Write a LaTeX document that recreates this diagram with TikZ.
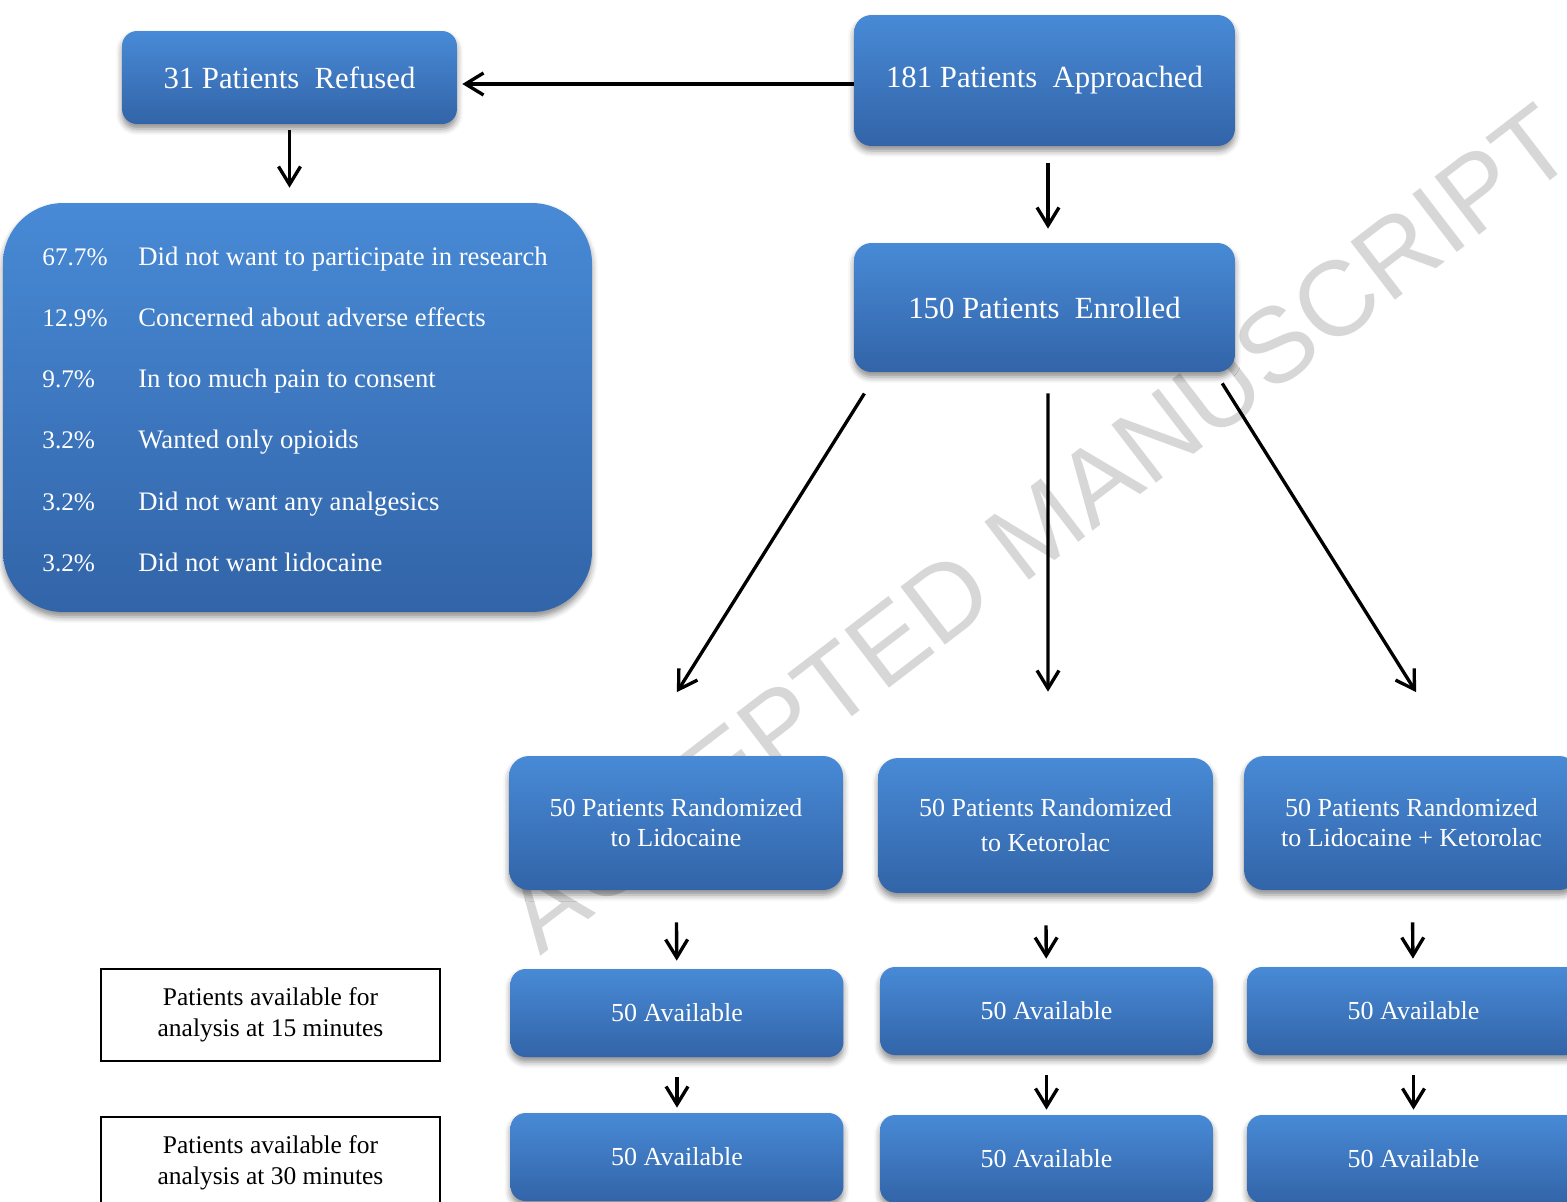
\documentclass[tikz,border=0pt]{standalone}
\usepackage{fontspec}
\setmainfont{Liberation Serif}
\newfontfamily\wmfont{Liberation Sans}
\usetikzlibrary{arrows.meta,shadows.blur}
\definecolor{boxtop}{RGB}{72,138,214}
\definecolor{boxbot}{RGB}{50,100,168}
\definecolor{wmgray}{RGB}{215,215,215}
\begin{document}
\begin{tikzpicture}[x=0.02cm, y=-0.02cm,
	bluebox/.style={rounded corners=0.35cm, top color=boxtop, bottom color=boxbot, text=white, align=center, inner sep=0pt,
		blur shadow={shadow xshift=0pt, shadow yshift=-0.1cm, shadow blur radius=0.12cm, shadow opacity=45}},
	big/.style={font=\fontsize{17.5}{21}\selectfont},
	mid/.style={font=\fontsize{14.8}{17}\selectfont},
	labelbox/.style={draw=black, line width=0.8pt, fill=white, align=center, minimum width=6.78cm, minimum height=1.84cm, font=\fontsize{14.5}{17.6}\selectfont},
	arr/.style={-{Straight Barb[length=0.36cm,width=0.44cm]}, line width=1.9pt}]
\useasboundingbox (0,0) rectangle (1567,1202);
\node[font=\wmfont\fontsize{60.5}{60.5}\selectfont, text=wmgray, rotate=37.5, inner sep=0pt] (wmark) at (1038,528) {ACCEPTED MANUSCRIPT};
%
\node[bluebox, big, minimum width=6.7cm, minimum height=1.86cm, rounded corners=0.3cm] (refd) at (289.5,77.5) {31 Patients~ Refused};
\node[bluebox, big, minimum width=7.62cm, minimum height=2.62cm] (appr) at (1044.5,80.5) {181 Patients~ Approached};
\node[bluebox, big, minimum width=7.62cm, minimum height=2.58cm] (enr) at (1044.5,307.5) {150 Patients~ Enrolled};
\node[bluebox, minimum width=11.78cm, minimum height=8.18cm, rounded corners=1.2cm] (rsn) at (297.5,407.5) {};
\foreach \i/\p/\t in {1/67.7/Did not want to participate in research, 2/12.9/Concerned about adverse effects, 3/9.7/In too much pain to consent, 4/3.2/Wanted only opioids, 5/3.2/Did not want any analgesics, 6/3.2/Did not want lidocaine}{
	\node[font=\fontsize{14.4}{17}\selectfont, text=white, anchor=base west, inner sep=0pt] (pct\i) at (42,204+61.2*\i) {\p\%};
	\node[font=\fontsize{15.2}{17}\selectfont, text=white, anchor=base west, inner sep=0pt] (why\i) at (138,204+61.2*\i) {\t};
}
%
\node[bluebox, mid, minimum width=6.68cm, minimum height=2.68cm, rounded corners=0.4cm] (randlid) at (676,823) {50 Patients Randomized\\to Lidocaine};
\node[bluebox, mid, minimum width=6.7cm, minimum height=2.7cm, rounded corners=0.4cm] (randkt) at (1045.5,825.5) {50 Patients Randomized\\[3pt]to Ketorolac};
\node[bluebox, mid, minimum width=6.7cm, minimum height=2.68cm, rounded corners=0.4cm] (randlk) at (1411.5,823) {50 Patients Randomized\\to Lidocaine + Ketorolac};
\foreach \n/\x/\ya/\yb in {lid/677/1013/1157, kt/1046.5/1011/1159, lk/1413.5/1011/1159}{
	\node[bluebox, mid, minimum width=6.66cm, minimum height=1.76cm, rounded corners=0.3cm] (av15\n) at (\x,\ya) {50 Available};
	\node[bluebox, mid, minimum width=6.66cm, minimum height=1.76cm, rounded corners=0.3cm] (av30\n) at (\x,\yb) {50 Available};
}
\node[labelbox] (lab15) at (270.5,1015) {Patients available for\\analysis at 15 minutes};
\node[labelbox] (lab30) at (270.5,1163) {Patients available for\\analysis at 30 minutes};
%
\draw[arr, shorten >=0.1cm] ([yshift=-0.07cm]appr.west) -- ([yshift=-0.07cm]appr.west -| refd.east);
\draw[arr, shorten <=0.12cm, shorten >=0.3cm] (refd.south) -- (refd.south |- rsn.north);
\draw[arr, shorten <=0.34cm, shorten >=0.28cm] ([xshift=0.07cm]appr.south) -- ([xshift=0.07cm]enr.north);
\draw[arr, shorten <=0.5cm, shorten >=1.5cm] ([xshift=0.48cm]enr.south west) -- ([xshift=-0.78cm]randlid.north);
\draw[arr, shorten <=0.42cm, shorten >=1.32cm] ([xshift=0.07cm]enr.south) -- ([xshift=0.05cm]randkt.north);
\draw[arr, shorten <=0.26cm, shorten >=1.5cm] ([xshift=-0.4cm]enr.south east) -- ([xshift=0.89cm]randlk.north);
\foreach \n in {lid,kt,lk}{
	\draw[arr, shorten <=0.64cm, shorten >=0.16cm] (rand\n) -- (av15\n);
	\draw[arr, shorten <=0.4cm, shorten >=0.1cm] (av15\n) -- (av30\n);
}
\end{tikzpicture}
\end{document}
